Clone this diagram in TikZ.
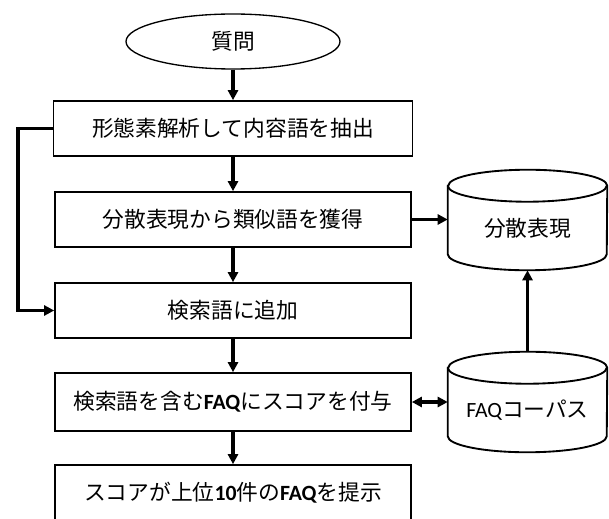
\documentclass[tikz,border=0pt]{standalone}
\usepackage{fontspec}
\setmainfont{Noto Sans CJK JP}
\newfontfamily\lat{Carlito}
\usetikzlibrary{arrows.meta,shapes.geometric}
\newcommand{\faq}{{\lat\bfseries FAQ}}
\begin{document}
\begin{tikzpicture}[x=0.75pt,y=0.75pt,
  every node/.style={font=\fontsize{16.3pt}{20pt}\selectfont, inner sep=0pt},
  procbox/.style={draw, line width=1.25pt, rectangle, minimum width=267pt, minimum height=41.25pt},
  startell/.style={draw, line width=1pt, ellipse, minimum width=160.5pt, minimum height=41.25pt},
  cylbox/.style={rectangle, minimum width=119.25pt, minimum height=75pt},
  cylline/.style={line width=1.4pt},
  conn/.style={line width=2.4pt, -{Triangle[length=7.5pt,width=7.5pt]}},
  dconn/.style={line width=2.4pt, {Triangle[length=7.5pt,width=7.5pt]}-{Triangle[length=7.5pt,width=7.5pt]}}
]
\useasboundingbox (0,0) rectangle (609,518);
\node[startell] (q) at (233,476.5) {質問};
\node[procbox, minimum width=269.25pt] (b1) at (233,389.5) {形態素解析して内容語を抽出};
\node[procbox] (b2) at (233,298.5) {分散表現から類似語を獲得};
\node[procbox] (b3) at (233,207.5) {検索語に追加};
\node[procbox, minimum height=43.5pt] (b4) at (233,116) {検索語を含む\faq にスコアを付与};
\node[procbox] (b5) at (233,25.5) {スコアが上位{\lat\bfseries 10}件の\faq を提示};
% cylinders
\node[cylbox] (c1) at (527.5,298) {};
\node[cylbox] (c2) at (527.5,116) {};
\foreach \c in {c1,c2}{
  \draw[cylline] ([yshift=-12pt]\c.north west) -- ([yshift=12pt]\c.south west)
    arc[start angle=180, end angle=360, x radius=59.625pt, y radius=12pt]
    -- ([yshift=-12pt]\c.north east)
    arc[start angle=0, end angle=180, x radius=59.625pt, y radius=12pt] -- cycle;
  \draw[cylline] ([yshift=-12pt]\c.north west)
    arc[start angle=180, end angle=360, x radius=59.625pt, y radius=12pt];
}
\node[yshift=-6.5pt] (c1t) at (c1.center) {分散表現};
\node[yshift=-6pt] (c2t) at (c2.center) {{\lat FAQ}コーパス};
\coordinate (lx) at (18,0);
% connectors
\draw[conn] (q.south) -- (b1.north);
\draw[conn] (b1.south) -- (b2.north);
\draw[conn] (b2.south) -- (b3.north);
\draw[conn] (b3.south) -- (b4.north);
\draw[conn] (b4.south) -- (b5.north);
\draw[conn] (b1.west) -- (b1.west -| lx) |- (b3.west);
\draw[conn] (b2.east) -- (b2.east -| c1.west);
\draw[dconn] (b4.east) -- (b4.east -| c2.west);
\draw[conn] (c2.north) -- (c1.south);
\end{tikzpicture}
\end{document}
